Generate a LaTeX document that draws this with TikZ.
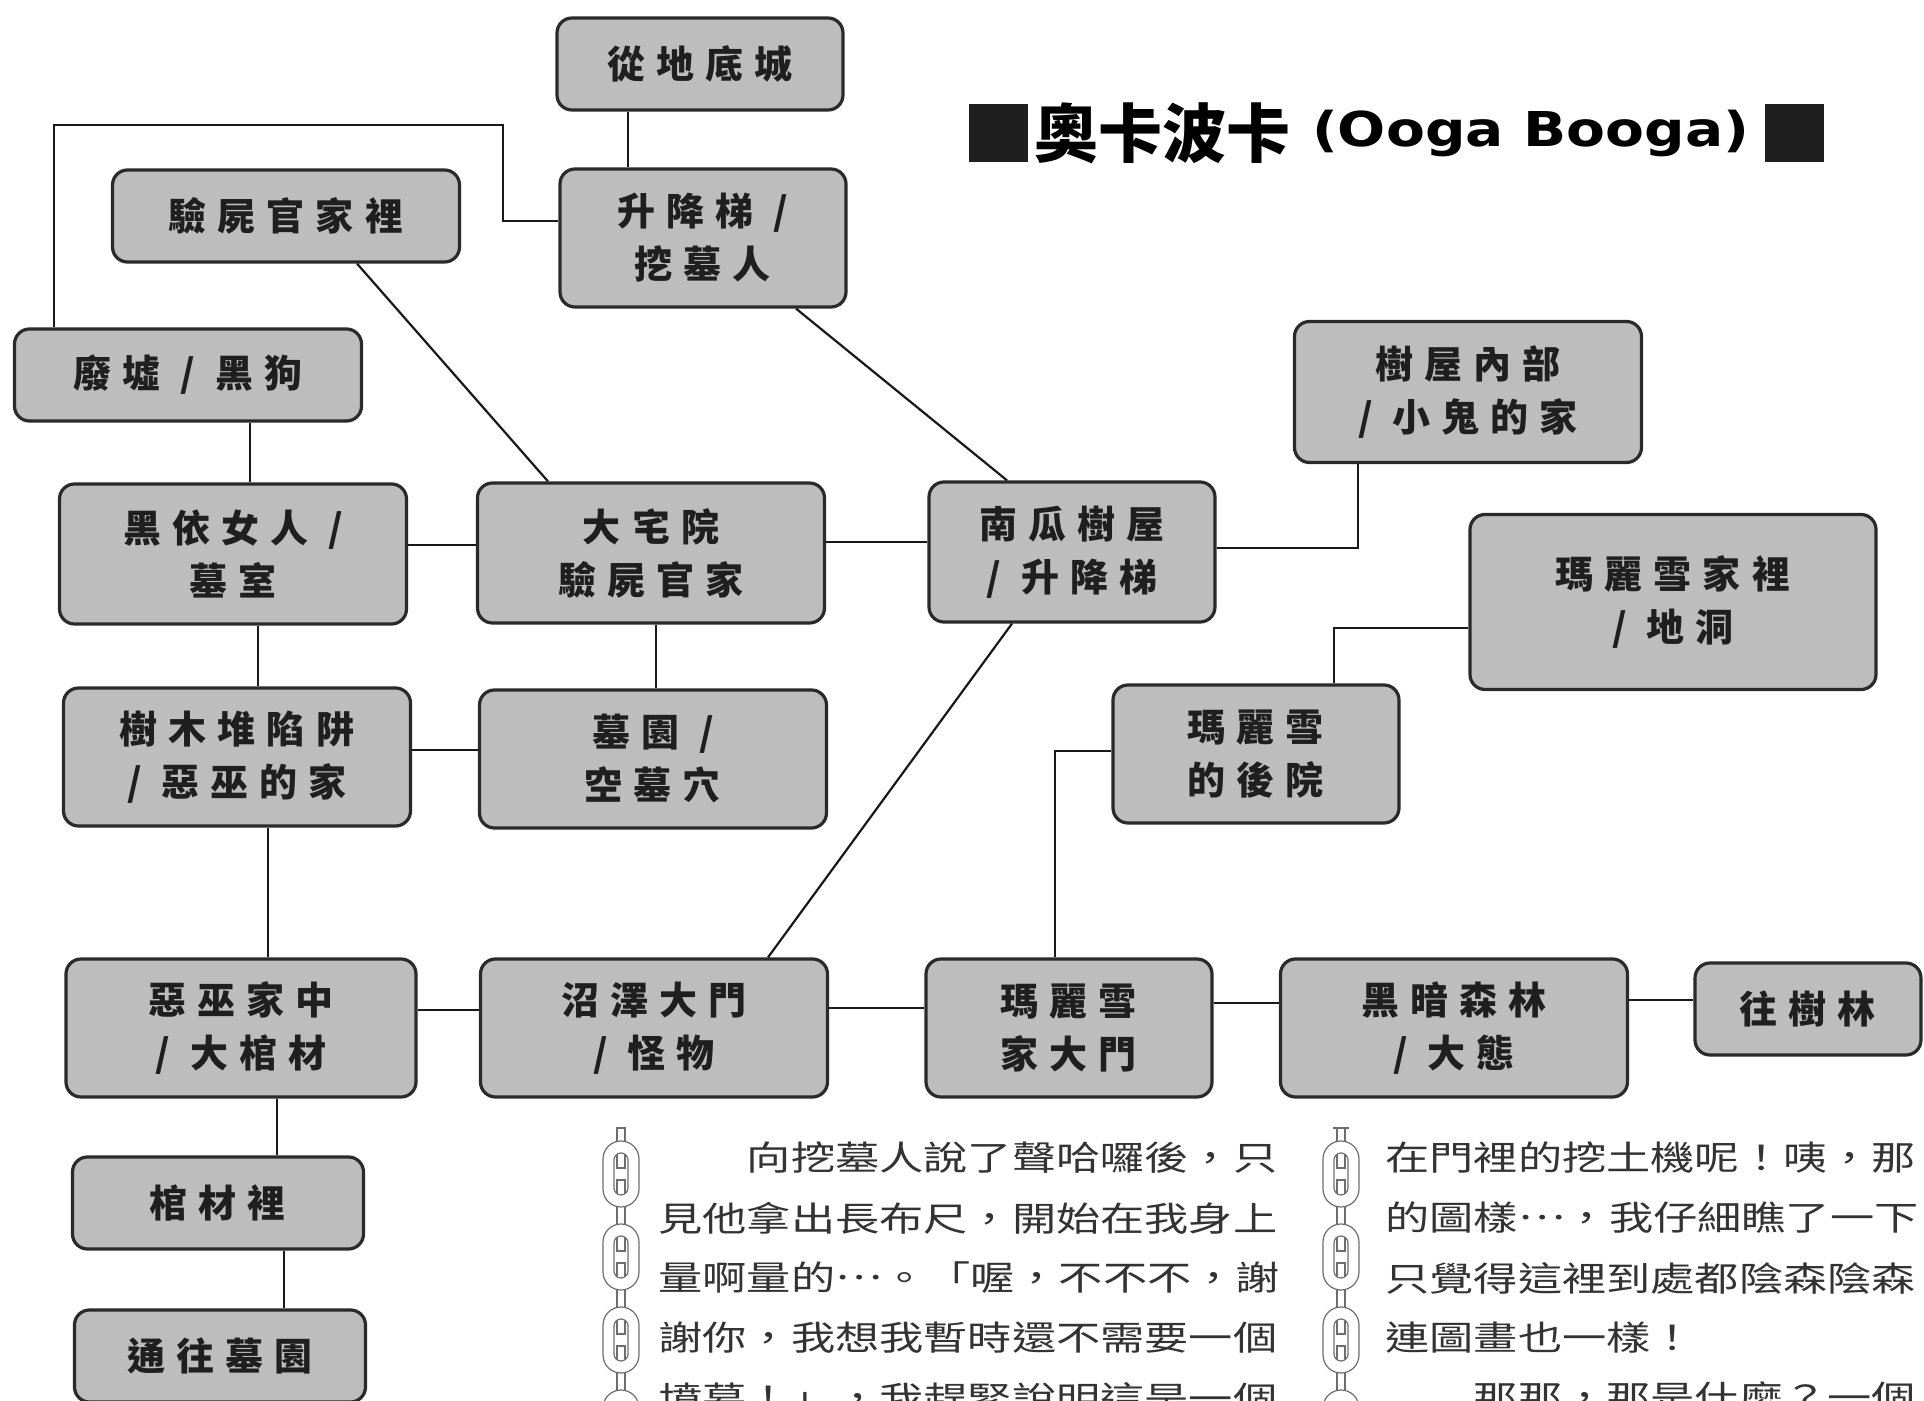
\documentclass[tikz,border=0pt]{standalone}
\usepackage{fontspec}
\newfontfamily\labelfont[LetterSpace=29]{Noto Sans CJK TC}
\newfontfamily\bodyfont[FakeStretch=1.3]{Noto Sans CJK TC}
\newfontfamily\titlefont{Noto Sans CJK TC}
\newfontfamily\latinfont[FakeStretch=1.18]{DejaVu Sans}
\usetikzlibrary{positioning}
\definecolor{BoxGray}{HTML}{BDBDBD}
\definecolor{InkGray}{HTML}{2A2A2A}
\definecolor{ChainGray}{HTML}{6E6E6E}
\newcommand\midellipsis{\raisebox{0.34em}{…}}

\tikzset{
  room/.style={draw=InkGray, line width=1.6pt, fill=BoxGray, rounded corners=7.5pt,
    align=center, inner sep=0pt, text=black!88,
    font=\labelfont\bfseries\fontsize{19pt}{26.5pt}\selectfont},
  wide/.style={minimum width=173.5pt},
  narrow/.style={minimum width=143pt},
  tall/.style={minimum height=69pt},
  flat/.style={minimum height=46pt},
  link/.style={draw=black!90, line width=1.1pt},
  bodyline/.style={anchor=west, inner sep=0pt, text=black!80,
    font=\bodyfont\fontsize{17pt}{20pt}\selectfont},
  titlesq/.style={fill=black!88, minimum width=29.5pt, minimum height=29pt, inner sep=0pt},
  chainline/.style={draw=ChainGray, line width=0.6pt}
}

\begin{document}
\begin{tikzpicture}[x=0.5pt, y=-0.5pt]
  \useasboundingbox (0,0) rectangle (1924,1401);
  \fill[white] (0,0) rectangle (1924,1401);
  \clip (0,0) rectangle (1924,1401);

  % title
  \node[titlesq] (sqL) at (998,133) {};
  \node[right=3pt of sqL, inner sep=0pt, font=\titlefont\bfseries\fontsize{32pt}{34pt}\selectfont] (titlezh) {奧卡波卡};
  \node[right=10.5pt of titlezh, inner sep=0pt, font=\latinfont\bfseries\fontsize{24pt}{26pt}\selectfont] (titleen) {(Ooga Booga)};
  \node[titlesq, right=7.5pt of titleen] (sqR) {};

  % rooms
  \node[room, narrow, flat] (dungeon) at (700,64) {從地底城};
  \node[room, narrow, tall] (lift) at (703,238) {升降梯 /\\挖墓人};
  \node[room, wide, flat] (coroner) at (286,216) {驗屍官家裡};
  \node[room, wide, flat] (ruins) at (188,375) {廢墟 / 黑狗};
  \node[room, wide, minimum height=70.5pt] (treehouse) at (1468,392) {樹屋內部\\/ 小鬼的家};
  \node[room, wide, minimum height=70pt] (widow) at (233,554) {黑依女人 /\\墓室};
  \node[room, wide, minimum height=70pt] (mansion) at (651,553) {大宅院\\驗屍官家};
  \node[room, narrow, minimum height=70pt] (pumpkin) at (1072,552) {南瓜樹屋\\/ 升降梯};
  \node[room, minimum width=203pt, minimum height=87.5pt] (maryhome) at (1673,602) {瑪麗雪家裡\\/ 地洞};
  \node[room, wide, tall] (woodtrap) at (237,757) {樹木堆陷阱\\/ 惡巫的家};
  \node[room, wide, tall] (graveyard) at (653,759) {墓園 /\\空墓穴};
  \node[room, narrow, tall] (backyard) at (1256,754) {瑪麗雪\\的後院};
  \node[room, minimum width=175pt, tall] (witch) at (241,1028) {惡巫家中\\/ 大棺材};
  \node[room, wide, tall] (swamp) at (654,1028) {沼澤大門\\/ 怪物};
  \node[room, narrow, tall] (marygate) at (1069,1028) {瑪麗雪\\家大門};
  \node[room, wide, tall] (forest) at (1454,1028) {黑暗森林\\/ 大態};
  \node[room, minimum width=113pt, flat] (towoods) at (1808,1009) {往樹林};
  \node[room, minimum width=145.5pt, flat] (coffin) at (218,1203) {棺材裡};
  \node[room, minimum width=145.5pt, flat] (tograve) at (220,1356) {通往墓園};

  % connections
  \draw[link] (dungeon.south -| 628,0) -- (lift.north -| 628,0);
  \draw[link] (ruins.north -| 54,0) |- (503,125) |- (lift.west |- 0,221);
  \draw[link] (coroner.south -| 357,0) -- (mansion.north -| 548,0);
  \draw[link] (lift.south -| 796,0) -- (pumpkin.north -| 1007,0);
  \draw[link] (ruins.south -| 250,0) -- (widow.north -| 250,0);
  \draw[link] (widow.east |- 0,545) -- (mansion.west |- 0,545);
  \draw[link] (mansion.east |- 0,542) -- (pumpkin.west |- 0,542);
  \draw[link] (pumpkin.east |- 0,548) -| (treehouse.south -| 1358,0);
  \draw[link] (widow.south -| 258,0) -- (woodtrap.north -| 258,0);
  \draw[link] (mansion.south -| 656,0) -- (graveyard.north -| 656,0);
  \draw[link] (woodtrap.east |- 0,750) -- (graveyard.west |- 0,750);
  \draw[link] (woodtrap.south -| 268,0) -- (witch.north -| 268,0);
  \draw[link] (pumpkin.south -| 1012,0) -- (swamp.north -| 768,0);
  \draw[link] (maryhome.west |- 0,628) -| (backyard.north -| 1334,0);
  \draw[link] (backyard.west |- 0,751) -| (marygate.north -| 1055,0);
  \draw[link] (witch.east |- 0,1010) -- (swamp.west |- 0,1010);
  \draw[link] (swamp.east |- 0,1008) -- (marygate.west |- 0,1008);
  \draw[link] (marygate.east |- 0,1003) -- (forest.west |- 0,1003);
  \draw[link] (forest.east |- 0,1000) -- (towoods.west |- 0,1000);
  \draw[link] (witch.south -| 277,0) -- (coffin.north -| 277,0);
  \draw[link] (coffin.south -| 284,0) -- (tograve.north -| 284,0);

  % chains
  \foreach \cx in {621,1341} {
    \draw[chainline, fill=white] (\cx-4,1128) rectangle (\cx+4,1168);
    \foreach \cy in {1174,1257,1340,1423} {
      \draw[chainline, fill=white] (\cx-4,\cy+6) rectangle (\cx+4,\cy+77);
      \draw[chainline, fill=white, even odd rule, rounded corners=9pt]
        (\cx-18,\cy-33) rectangle (\cx+18,\cy+33)
        [rounded corners=3.5pt] (\cx-7,\cy-21) rectangle (\cx+7,\cy+21);
    }
  }
  \draw[chainline] (1333,1128) -- (1349,1128);

  % text columns
  \node[bodyline] (colA1) at (658,1158) {　　向挖墓人說了聲哈囉後，只};
  \node[bodyline] (colA2) at (658,1218) {見他拿出長布尺，開始在我身上};
  \node[bodyline] (colA3) at (658,1278) {量啊量的\midellipsis。「喔，不不不，謝};
  \node[bodyline] (colA4) at (658,1338) {謝你，我想我暫時還不需要一個};
  \node[bodyline] (colA5) at (658,1398) {墳墓！」，我趕緊說明這是一個};
  \node[bodyline] (colB1) at (1385,1158) {在門裡的挖土機呢！咦，那};
  \node[bodyline] (colB2) at (1385,1218) {的圖樣\midellipsis，我仔細瞧了一下};
  \node[bodyline] (colB3) at (1385,1278) {只覺得這裡到處都陰森陰森};
  \node[bodyline] (colB4) at (1385,1338) {連圖畫也一樣！};
  \node[bodyline] (colB5) at (1385,1398) {　　那那，那是什麼？一個};
\end{tikzpicture}
\end{document}
